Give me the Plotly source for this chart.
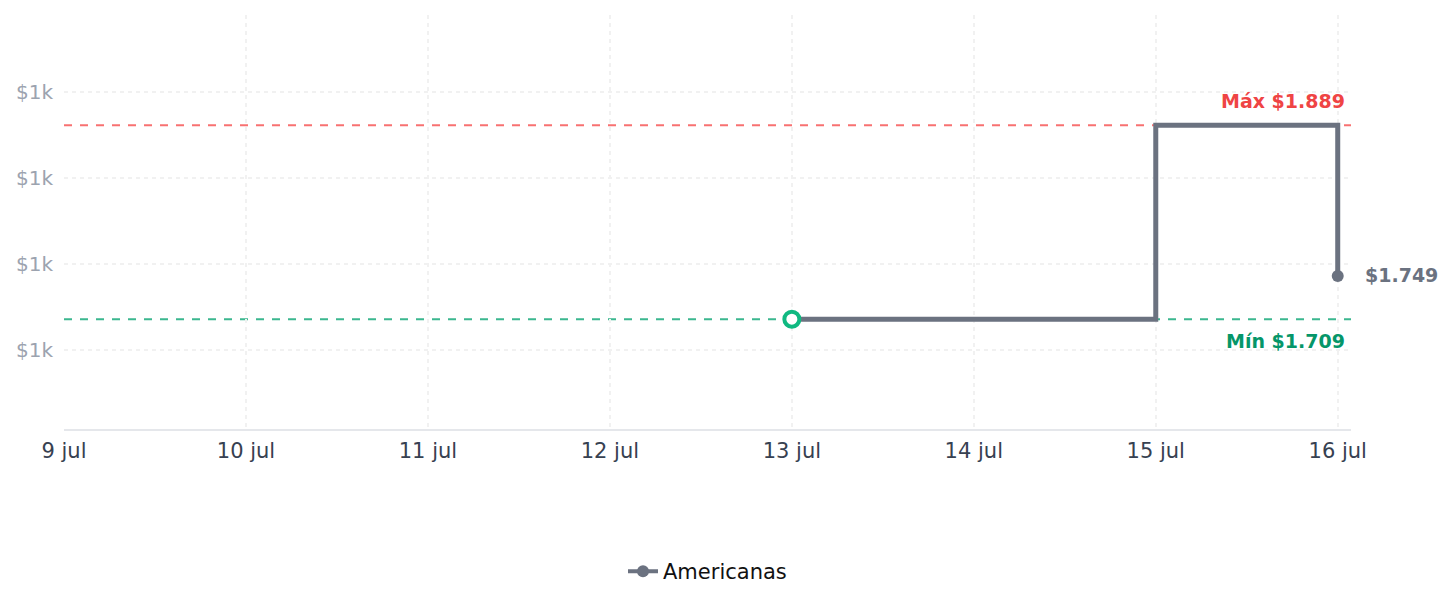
import plotly.graph_objects as go

dates = ["2024-07-13", "2024-07-15", "2024-07-16"]
prices = [1709, 1889, 1749]
series_name = "Americanas"
tick_dates = ["2024-07-09", "2024-07-10", "2024-07-11", "2024-07-12",
              "2024-07-13", "2024-07-14", "2024-07-15", "2024-07-16"]
tick_labels = ["9 jul", "10 jul", "11 jul", "12 jul", "13 jul", "14 jul", "15 jul", "16 jul"]
y_ticks = [1680, 1760, 1840, 1920]
y_tick_labels = ["$1k", "$1k", "$1k", "$1k"]
min_price = min(prices)
max_price = max(prices)
last_price = prices[-1]

GRAY = "#6b7280"
fig = go.Figure()
fig.add_trace(go.Scatter(x=dates, y=prices, mode="lines", line=dict(color=GRAY, width=5, shape="hv"),
                         showlegend=False, hoverinfo="skip"))
fig.add_trace(go.Scatter(x=[dates[0]], y=[prices[0]], mode="markers",
                         marker=dict(size=15, color="white", line=dict(color="#10b981", width=4)),
                         showlegend=False))
fig.add_trace(go.Scatter(x=[dates[-1]], y=[prices[-1]], mode="markers",
                         marker=dict(size=12, color=GRAY), showlegend=False))
fig.add_trace(go.Scatter(x=[None], y=[None], mode="lines+markers", name=series_name,
                         line=dict(color=GRAY, width=4), marker=dict(size=12, color=GRAY)))

fig.add_shape(type="line", xref="paper", x0=0, x1=1, y0=max_price, y1=max_price,
              line=dict(color="#f87171", width=2, dash="8px,8px"), layer="below")
fig.add_shape(type="line", xref="paper", x0=0, x1=1, y0=min_price, y1=min_price,
              line=dict(color="#3bb78f", width=2, dash="8px,8px"), layer="below")

fig.add_annotation(x=dates[-1], y=max_price, text=f"Máx ${max_price/1000:.3f}", showarrow=False,
                   xanchor="right", yanchor="bottom", xshift=9, yshift=11,
                   font=dict(family="DejaVu Sans", size=19, color="#ef4444", weight="bold"))
fig.add_annotation(x=dates[-1], y=min_price, text=f"Mín ${min_price/1000:.3f}", showarrow=False,
                   xanchor="right", yanchor="top", xshift=9, yshift=-9,
                   font=dict(family="DejaVu Sans", size=19, color="#059669", weight="bold"))
fig.add_annotation(x=dates[-1], y=last_price, text=f"${last_price/1000:.3f}", showarrow=False,
                   xanchor="left", yanchor="middle", xshift=25, yshift=1,
                   font=dict(family="DejaVu Sans", size=19, color=GRAY, weight="bold"))

fig.update_layout(
    width=1452, height=607,
    margin=dict(l=64, r=101, t=15, b=178),
    paper_bgcolor="white", plot_bgcolor="white",
    font=dict(family="DejaVu Sans"),
    showlegend=True,
    legend=dict(orientation="h", x=0.5, xanchor="center", y=-0.295, yanchor="top",
                font=dict(size=21, color="#111111")),
    xaxis=dict(range=["2024-07-09", "2024-07-16 01:45"], tickvals=tick_dates, ticktext=tick_labels,
               showgrid=True, gridcolor="#f1f1f1", griddash="4px,4px", gridwidth=1.5,
               showline=True, linecolor="#e5e7eb", linewidth=1.5, zeroline=False,
               tickfont=dict(size=21, color="#374151"), ticks="", ticklabelstandoff=2),
    yaxis=dict(range=[1607, 1991.5], tickvals=y_ticks, ticktext=y_tick_labels,
               showgrid=True, gridcolor="#f1f1f1", griddash="4px,4px", gridwidth=1.5,
               zeroline=False, showline=False,
               tickfont=dict(size=20, color="#9ca3af"), ticks="", ticklabelstandoff=10),
)

fig.write_html("out.html")
